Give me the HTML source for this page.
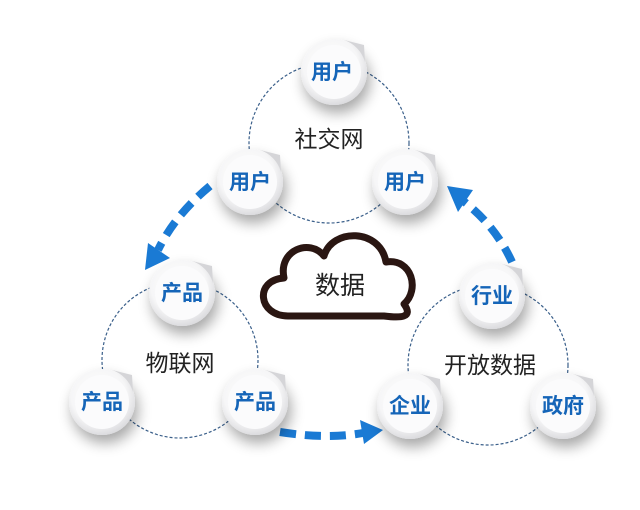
<!DOCTYPE html>
<html><head><meta charset="utf-8"><style>
html,body{margin:0;padding:0;background:#fff;width:640px;height:510px;overflow:hidden}
svg{display:block}
text{font-family:"Liberation Sans","Noto Sans CJK SC",sans-serif}
</style></head><body>
<svg width="640" height="510" viewBox="0 0 640 510">
<defs>
<radialGradient id="g" cx="45%" cy="40%" r="60%">
<stop offset="0" stop-color="#ffffff"/><stop offset="0.7" stop-color="#f6f6f7"/><stop offset="1" stop-color="#dcdcdf"/>
</radialGradient>
<filter id="sh" x="-60%" y="-60%" width="220%" height="220%">
<feGaussianBlur in="SourceAlpha" stdDeviation="7"/><feOffset dx="3" dy="8"/>
<feComponentTransfer><feFuncA type="linear" slope="0.35"/></feComponentTransfer>
<feMerge><feMergeNode/><feMergeNode in="SourceGraphic"/></feMerge>
</filter>
<g id="n"><circle r="33" fill="url(#g)" filter="url(#sh)"/><circle r="27" fill="#fbfbfc"/><path d="M10,-32 A33,33 0 0 1 31,-10 L30,-27 Z" fill="#d5d5d8"/></g>
</defs>
<g fill="none" stroke="#3a5f8a" stroke-width="1.2" stroke-dasharray="3,2">
<circle cx="329" cy="143" r="80"/>
<circle cx="180" cy="360" r="78"/>
<circle cx="488" cy="365" r="80"/>
</g>
<g stroke="#1a7ad4" stroke-width="8" fill="none" stroke-dasharray="16,9">
<path d="M210,186 Q175,215 158,250"/>
<path d="M280,432 Q330,440 368,432"/>
<path d="M512,262 Q495,225 462,200"/>
</g>
<g fill="#1a7ad4">
<polygon points="145,270 148,243 170,258"/>
<polygon points="383,430 360,420 364,444"/>
<polygon points="447,186 473,190 458,212"/>
</g>
<path d="M288,316 C258,316 254,280 284,278 C278,250 310,238 324,256 C332,228 380,228 386,262 C412,258 420,290 404,304 C414,318 400,318 384,316 Z" fill="#fff" stroke="#2a1612" stroke-width="7" stroke-linejoin="round"/>
<text x="340" y="294" font-size="25" text-anchor="middle" fill="#222">数据</text>
<text x="329" y="147" font-size="23" text-anchor="middle" fill="#222">社交网</text>
<text x="180" y="371" font-size="23" text-anchor="middle" fill="#222">物联网</text>
<text x="490" y="373" font-size="23" text-anchor="middle" fill="#222">开放数据</text>
<g font-size="21" font-weight="bold" text-anchor="middle" fill="#1565b8">
<use href="#n" x="334" y="72"/><text x="332" y="79">用户</text>
<use href="#n" x="250" y="182"/><text x="250" y="189">用户</text>
<use href="#n" x="405" y="182"/><text x="405" y="189">用户</text>
<use href="#n" x="182" y="293"/><text x="182" y="300">产品</text>
<use href="#n" x="102" y="402"/><text x="102" y="409">产品</text>
<use href="#n" x="255" y="402"/><text x="255" y="409">产品</text>
<use href="#n" x="492" y="296"/><text x="492" y="303">行业</text>
<use href="#n" x="410" y="406"/><text x="410" y="413">企业</text>
<use href="#n" x="563" y="406"/><text x="563" y="413">政府</text>
</g>
</svg>
</body></html>
